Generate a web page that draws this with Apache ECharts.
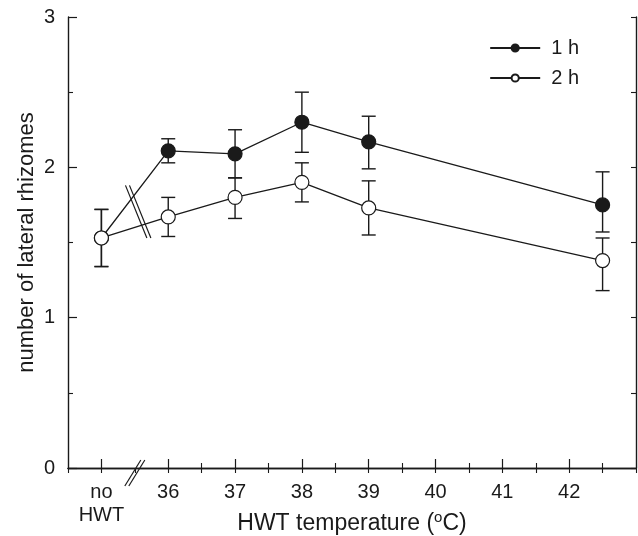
<!DOCTYPE html>
<html>
<head>
<meta charset="utf-8">
<script src="https://cdn.jsdelivr.net/npm/echarts@6/dist/echarts.min.js"></script>
<style>
  html, body { margin: 0; padding: 0; background: #fff; }
  #chart { width: 638px; height: 536px; }
</style>
</head>
<body>
<div id="chart"></div>
<script>
// x positions: 35 stands for "no HWT"
const temps = [35, 36, 37, 38, 39, 42.5]
const xTicks = [35, 36, 37, 38, 39, 40, 41, 42]
const xMinorTicks = [36.5, 37.5, 38.5, 39.5, 40.5, 41.5, 42.5]

const h1Mean = [1.53, 2.11, 2.09, 2.30, 2.17, 1.75]
const h1Low = [1.34, 2.03, 1.93, 2.10, 1.99, 1.57]
const h1High = [1.72, 2.19, 2.25, 2.50, 2.34, 1.97]

const h2Mean = [1.53, 1.67, 1.80, 1.90, 1.73, 1.38]
const h2Low = [1.34, 1.54, 1.66, 1.77, 1.55, 1.18]
const h2High = [1.72, 1.80, 1.93, 2.03, 1.91, 1.53]

// break mark on the data lines, [x1, y1, x2, y2]
const lineBreak = [[35.39, 1.88, 35.71, 1.53]]

const ink = '#1a1a1a'
const font = 'Liberation Sans, Arial, sans-serif'

const chart = echarts.init(document.getElementById('chart'))

const errorBars = (name, lo, hi) => ({
  name: name + ' err',
  type: 'custom',
  z: 1,
  silent: true,
  data: temps.map((t, i) => [t, lo[i], hi[i]]),
  renderItem: (params, api) => {
    const top = api.coord([api.value(0), api.value(2)])
    const bot = api.coord([api.value(0), api.value(1)])
    const w = 7
    const style = { stroke: ink, lineWidth: 1.4 }
    return {
      type: 'group',
      children: [
        { type: 'line', shape: { x1: top[0], y1: top[1], x2: bot[0], y2: bot[1] }, style },
        { type: 'line', shape: { x1: top[0] - w, y1: top[1], x2: top[0] + w, y2: top[1] }, style },
        { type: 'line', shape: { x1: bot[0] - w, y1: bot[1], x2: bot[0] + w, y2: bot[1] }, style }
      ]
    }
  }
})

const option = {
  animation: false,
  backgroundColor: '#fff',
  grid: { left: 68, right: 2, top: 17, bottom: 68, outerBoundsMode: 'none', containLabel: false },
  legend: {
    orient: 'vertical',
    right: 54,
    top: 33,
    itemWidth: 50,
    itemHeight: 9,
    itemGap: 10,
    textStyle: { fontFamily: font, fontSize: 20, color: ink, padding: [0, 0, 0, 6] },
    data: ['1 h', '2 h']
  },
  xAxis: [
    {
      type: 'value',
      min: 34.5,
      max: 43,
      position: 'bottom',
      name: 'HWT temperature ({sup|o}C)',
      nameLocation: 'middle',
      nameGap: 42,
      nameMoveOverlap: false,
      nameTextStyle: {
        fontFamily: font, fontSize: 23, color: ink,
        rich: { sup: { fontFamily: font, fontSize: 15, color: ink, verticalAlign: 'top', padding: [0, 0, 13, 0] } }
      },
      axisLine: { onZero: false, lineStyle: { color: ink, width: 1.4 } },
      axisTick: { inside: true, length: 9, customValues: xTicks, lineStyle: { color: ink, width: 1.2 } },
      axisLabel: {
        customValues: xTicks,
        margin: 13,
        fontFamily: font, fontSize: 20, color: ink, lineHeight: 23,
        formatter: v => (v === 35 ? 'no\nHWT' : String(v)),
        verticalAlign: 'top'
      },
      splitLine: { show: false }
    },
    {
      type: 'value',
      min: 34.5,
      max: 43,
      position: 'bottom',
      axisLine: { show: false },
      axisTick: { inside: true, length: 5, customValues: xMinorTicks, lineStyle: { color: ink, width: 1.1 } },
      axisLabel: { show: false },
      splitLine: { show: false }
    },
    {
      type: 'value',
      min: 34.5,
      max: 43,
      interval: 0.5,
      position: 'top',
      axisLine: { lineStyle: { color: ink, width: 1.4 } },
      axisTick: { inside: true, length: 5, lineStyle: { color: ink, width: 1.1 } },
      axisLabel: { show: false },
      splitLine: { show: false }
    }
  ],
  yAxis: [
    {
      type: 'value',
      min: 0,
      max: 3,
      interval: 1,
      name: 'number of lateral rhizomes',
      nameLocation: 'middle',
      nameGap: 30,
      nameMoveOverlap: false,
      nameTextStyle: { fontFamily: font, fontSize: 22, color: ink },
      axisLine: { show: true, lineStyle: { color: ink, width: 1.4 } },
      axisTick: { show: true, inside: true, length: 9, lineStyle: { color: ink, width: 1.2 } },
      minorTick: { show: true, splitNumber: 2, length: 5, lineStyle: { color: ink, width: 1.1 } },
      axisLabel: { margin: 13, fontFamily: font, fontSize: 20, color: ink },
      splitLine: { show: false },
      minorSplitLine: { show: false }
    },
    {
      type: 'value',
      min: 0,
      max: 3,
      interval: 0.5,
      position: 'right',
      axisLine: { show: true, lineStyle: { color: ink, width: 1.4 } },
      axisTick: { show: true, inside: true, length: 5, lineStyle: { color: ink, width: 1.1 } },
      axisLabel: { show: false },
      splitLine: { show: false }
    }
  ],
  series: [
    errorBars('1 h', h1Low, h1High),
    errorBars('2 h', h2Low, h2High),
    {
      name: '1 h',
      type: 'line',
      z: 3,
      data: temps.map((t, i) => [t, h1Mean[i]]),
      symbol: 'circle',
      symbolSize: 14,
      lineStyle: { color: ink, width: 1.3 },
      itemStyle: { color: ink, borderColor: ink, borderWidth: 1.2 }
    },
    {
      name: '2 h',
      type: 'line',
      z: 4,
      data: temps.map((t, i) => [t, h2Mean[i]]),
      symbol: 'circle',
      symbolSize: 14,
      lineStyle: { color: ink, width: 1.3 },
      itemStyle: { color: '#fff', borderColor: ink, borderWidth: 1.2 }
    },
    {
      // double slash across the data lines
      type: 'custom',
      z: 5,
      silent: true,
      data: lineBreak,
      renderItem: (params, api) => {
        const a = api.coord([api.value(0), api.value(1)])
        const b = api.coord([api.value(2), api.value(3)])
        const style = { stroke: ink, lineWidth: 1.2 }
        return {
          type: 'group',
          children: [-2, 2].map(d => ({
            type: 'line',
            shape: { x1: a[0] + d, y1: a[1], x2: b[0] + d, y2: b[1] },
            style
          }))
        }
      }
    },
    {
      // double slash across the x axis
      type: 'custom',
      z: 5,
      silent: true,
      clip: false,
      data: [[35.5, 0]],
      renderItem: (params, api) => {
        const c = api.coord([api.value(0), api.value(1)])
        const style = { stroke: ink, lineWidth: 1.2 }
        return {
          type: 'group',
          children: [-2, 2].map(d => ({
            type: 'line',
            shape: { x1: c[0] + 8 + d, y1: c[1] - 8, x2: c[0] - 8 + d, y2: c[1] + 18 },
            style
          }))
        }
      }
    }
  ]
}

chart.setOption(option)
</script>
</body>
</html>
